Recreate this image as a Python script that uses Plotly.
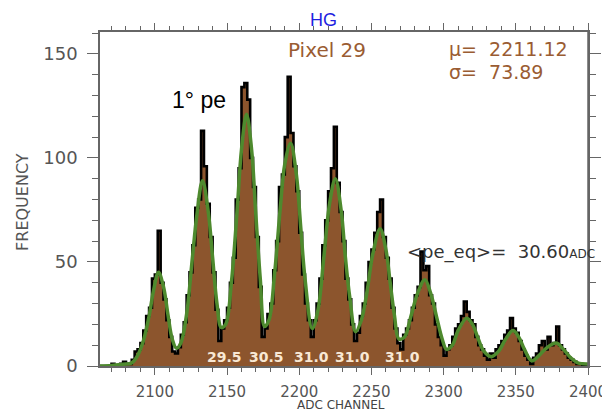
import numpy as np
import plotly.graph_objects as go

# ---- data -------------------------------------------------------------
bin_start = 2062
bin_width = 2
counts = [
    0, 0, 0, 0, 1, 0, 0, 1, 2, 1,          # 2062-2081
    1, 3, 7, 8, 11, 17, 24, 28, 42, 44,     # 2082-2101
    65, 40, 32, 22, 14, 7, 6, 9, 15, 21,    # 2102-2121
    34, 45, 58, 76, 80, 113, 96, 78, 62, 45,  # 2122-2141
    27, 12, 18, 22, 28, 40, 52, 80, 95, 134,  # 2142-2161
    136, 128, 100, 86, 62, 38, 14, 18, 25, 30,  # 2162-2181
    46, 60, 86, 92, 110, 139, 112, 96, 84, 64,  # 2182-2201
    44, 30, 22, 14, 22, 30, 42, 58, 70, 84,   # 2202-2221
    95, 115, 88, 74, 60, 42, 32, 20, 12, 16,  # 2222-2241
    24, 30, 40, 50, 56, 64, 74, 80, 62, 52,   # 2242-2261
    42, 28, 18, 11, 8, 15, 18, 22, 28, 34,    # 2262-2281
    38, 55, 46, 48, 34, 30, 20, 14, 10, 5,    # 2282-2301
    8, 10, 14, 18, 20, 24, 31, 26, 22, 20,    # 2302-2321
    14, 10, 8, 5, 3, 6, 4, 8, 10, 12,         # 2322-2341
    15, 17, 23, 18, 16, 12, 8, 5, 3, 1,       # 2342-2361
    4, 6, 10, 12, 8, 14, 10, 11, 19, 10,      # 2362-2381
    8, 6, 4, 3, 2, 1, 1, 0, 0,                # 2382-2399
]

fit_x = [2062, 2070, 2078, 2084, 2088, 2092, 2096, 2099, 2102.5, 2106,
         2109, 2112, 2115, 2118, 2122, 2126, 2129, 2133, 2137, 2140,
         2143, 2146, 2149, 2153, 2157, 2160, 2163.5, 2167, 2170, 2173,
         2176, 2179, 2183, 2187, 2190, 2194, 2198, 2201, 2204, 2209,
         2213, 2217, 2221, 2225, 2229, 2232, 2235, 2239, 2243, 2247,
         2251, 2256, 2260, 2263, 2266, 2269, 2273, 2277, 2282, 2287,
         2291, 2295, 2299, 2302, 2306, 2310, 2316, 2320, 2324, 2328,
         2333, 2338, 2343, 2348, 2352, 2356, 2361, 2366, 2371, 2378,
         2383, 2388, 2393, 2400]
fit_y = [0, 0.3, 0.8, 1.5, 5, 12, 24, 36, 45, 38,
         25, 13, 8.5, 11, 25, 52, 72, 89, 74, 52,
         30, 18.5, 20, 40, 75, 104, 121, 104, 72, 42,
         19, 22, 45, 77, 97, 107, 92, 67, 42, 18,
         27, 52, 78, 90, 75, 52, 33, 16.5, 22, 36,
         54, 66, 56, 40, 24, 13, 14, 23, 35, 41.5,
         35, 24, 13, 8, 10, 17, 23, 20, 13, 7,
         4.5, 7, 13, 17, 14, 8, 2.5, 5, 8.5, 11,
         8, 4, 1.5, 1]

pe_labels = ["29.5", "30.5", "31.0", "31.0", "31.0"]
pe_label_x = [0.256, 0.342, 0.434, 0.518, 0.619]

x_tickvals = [2100, 2150, 2200, 2250, 2300, 2350, 2400]
y_tickvals = [0, 50, 100, 150]

# ---- figure -------------------------------------------------------------
edges = bin_start + bin_width * np.arange(len(counts) + 1)
step_x = list(edges[:-1]) + [edges[-1]]
step_y = list(counts) + [counts[-1]]

BROWN = "#8c552d"
GREEN = "#4e8a2e"
AXC = "#666666"
FONT = "DejaVu Sans"

fig = go.Figure()
fig.add_trace(go.Scatter(
    x=step_x, y=step_y, mode="lines", line_shape="hv",
    line=dict(color="black", width=2.6),
    fill="tozeroy", fillcolor=BROWN, hoverinfo="skip", showlegend=False))
fig.add_trace(go.Scatter(
    x=fit_x, y=fit_y, mode="lines", line_shape="spline",
    line=dict(color=GREEN, width=3.5, smoothing=1.0),
    hoverinfo="skip", showlegend=False))

axis_common = dict(
    showgrid=False, zeroline=False, showline=True, linecolor=AXC, linewidth=1.5,
    mirror="ticks", ticks="outside", tickcolor=AXC, tickwidth=1.2, automargin=False,
    ticklabeloverflow="allow",
)
fig.update_xaxes(
    range=[2062, 2400], tickvals=x_tickvals, ticklen=7, ticklabelstandoff=4,
    tickfont=dict(family=FONT, size=15, color="#555555"),
    minor=dict(dtick=10, tick0=2100, ticks="outside", ticklen=4, tickcolor=AXC, tickwidth=1.2),
    **axis_common)
fig.update_yaxes(
    range=[0, 160.5], tickvals=y_tickvals, ticklen=11, ticklabelstandoff=6,
    tickfont=dict(family=FONT, size=18, color="#555555"),
    minor=dict(dtick=10, tick0=0, ticks="outside", ticklen=6, tickcolor=AXC, tickwidth=1.2),
    **axis_common)

# right frame edge (drawn again so it is always visible)
fig.add_shape(type="line", xref="paper", yref="paper", x0=1, x1=1, y0=0, y1=1,
              line=dict(color=AXC, width=1.5), layer="above")

ann = []
ann.append(dict(text="FREQUENCY", x=-0.160, y=0.491, xref="paper", yref="paper", textangle=-90,
                showarrow=False, font=dict(family=FONT, size=16, color="#555555"),
                xanchor="center", yanchor="middle"))
ann.append(dict(text="ADC CHANNEL", x=0.494, y=-0.118, xref="paper", yref="paper",
                showarrow=False, font=dict(family=FONT, size=12, color="#444444"),
                xanchor="center", yanchor="middle"))
ann.append(dict(text="HG", x=0.459, y=1.036, xref="paper", yref="paper",
                showarrow=False, font=dict(family="Liberation Sans", size=18, color="#1f1fe0"),
                xanchor="center", yanchor="middle"))
ann.append(dict(text="Pixel 29", x=0.381, y=0.946, xref="paper", yref="paper",
                showarrow=False, font=dict(family=FONT, size=20, color="#9a5c32"),
                xanchor="left", yanchor="middle"))
ann.append(dict(text="\u03bc=  2211.12", x=0.711, y=0.949, xref="paper", yref="paper",
                showarrow=False, font=dict(family=FONT, size=19, color="#9a5c32"),
                xanchor="left", yanchor="middle"))
ann.append(dict(text="\u03c3=  73.89", x=0.711, y=0.880, xref="paper", yref="paper",
                showarrow=False, font=dict(family=FONT, size=19, color="#9a5c32"),
                xanchor="left", yanchor="middle"))
ann.append(dict(text="1\u00b0 pe", x=0.143, y=0.796, xref="paper", yref="paper",
                showarrow=False, font=dict(family="Liberation Sans", size=23, color="black"),
                xanchor="left", yanchor="middle"))
ann.append(dict(text="&lt;pe_eq&gt;=  30.60<span style='font-size:12px'>ADC</span>",
                x=0.625, y=0.341, xref="paper", yref="paper",
                showarrow=False, font=dict(family=FONT, size=18, color="#333333"),
                xanchor="left", yanchor="middle"))
for lab, lx in zip(pe_labels, pe_label_x):
    ann.append(dict(text="<b>" + lab + "</b>", x=lx, y=0.027, xref="paper", yref="paper",
                    showarrow=False, font=dict(family=FONT, size=14, color="#f8e8d4"),
                    xanchor="center", yanchor="middle"))

fig.update_layout(
    width=602, height=412,
    margin=dict(l=100, r=14, t=32, b=46),
    paper_bgcolor="white", plot_bgcolor="white",
    annotations=ann, showlegend=False,
)

# remove the page's default 8px body margin so the figure fills the window
fig.write_html(
    "out.html",
    config={"displayModeBar": False},
    post_script="document.body.style.margin='0';document.body.style.overflow='hidden';",
)
